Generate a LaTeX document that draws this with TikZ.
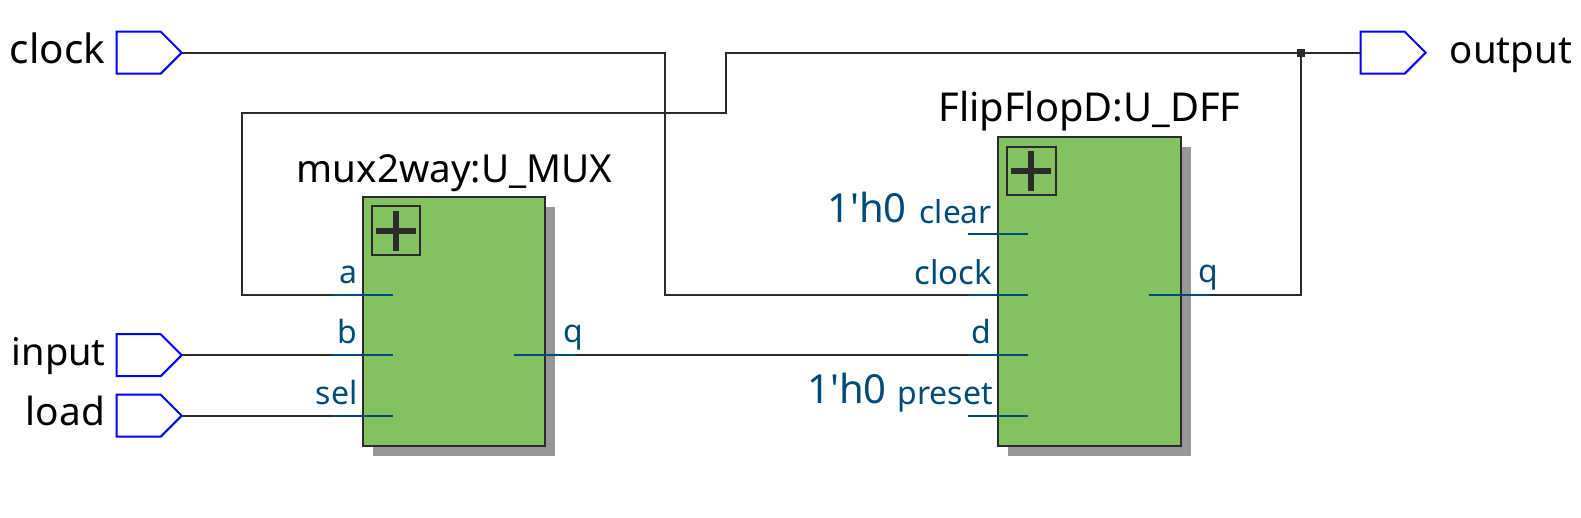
\documentclass[tikz,border=0pt]{standalone}
\usepackage{fontspec}
\setmainfont{Noto Sans}
\usetikzlibrary{shapes.symbols}
\definecolor{wirec}{HTML}{2B2B2B}
\definecolor{portc}{HTML}{004A78}
\definecolor{blockc}{HTML}{84C161}
\definecolor{shadowc}{HTML}{969696}
\tikzset{
  x=0.5pt,y=-0.5pt,
  pinbox/.style={signal,signal to=east,signal from=nowhere,signal pointer angle=90,draw=blue,line width=1pt,fill=white,minimum width=32.5pt,minimum height=21pt,inner sep=0pt,outer sep=0pt,anchor=west},
  blockbox/.style={draw=wirec,line width=1pt,fill=blockc,anchor=north west,minimum width=91.3pt,inner sep=0pt,outer sep=0pt},
  shadowbox/.style={fill=shadowc,anchor=north west,minimum width=91.3pt,inner sep=0pt,outer sep=0pt},
  plusbox/.style={draw=wirec,line width=1pt,minimum size=24.3pt,inner sep=0pt,outer sep=0pt},
  wire/.style={draw=wirec,line width=0.85pt},
  stub/.style={draw=portc,line width=0.85pt},
  plusbar/.style={draw=wirec,line width=3pt},
  pinlabel/.style={text=black,font=\fontsize{19.4pt}{23pt}\selectfont,inner sep=0pt,anchor=base east},
  title/.style={text=black,inner sep=0pt,anchor=base},
  portlabel/.style={text=portc,font=\fontsize{16pt}{19pt}\selectfont,inner sep=0pt,anchor=base east},
  constlabel/.style={text=portc,font=\fontsize{20pt}{24pt}\selectfont,inner sep=0pt,anchor=base east},
  junction/.style={fill=wirec,minimum size=4pt,inner sep=0pt,outer sep=0pt}
}
\begin{document}
\begin{tikzpicture}
\useasboundingbox (0,0) rectangle (1581,518);
% shadows
\node[shadowbox,minimum height=124.7pt] (muxshadow) at (372.7,206.7) {};
\node[shadowbox,minimum height=154.9pt] (dffshadow) at (1008,146.7) {};
% blocks
\node[blockbox,minimum height=124.7pt] (mux) at (362.7,196.7) {};
\node[blockbox,minimum height=154.6pt] (dff) at (998,136.8) {};
% expand icons
\node[plusbox] (muxplus) at (396,230.8) {};
\draw[plusbar] (376,230.8) -- (416,230.8) (396,210.8) -- (396,250.8);
\node[plusbox] (dffplus) at (1031.3,171) {};
\draw[plusbar] (1011.3,171) -- (1051.3,171) (1031.3,151) -- (1031.3,191);
% pins
\node[pinbox] (clockpin) at (116.7,52.7) {};
\node[pinbox] (inputpin) at (116.7,355.2) {};
\node[pinbox] (loadpin) at (116.7,415.7) {};
\node[pinbox] (outpin) at (1360.7,52.7) {};
% port ends
\coordinate (muxa) at (332,294.7);
\coordinate (muxa2) at (393,294.7);
\coordinate (muxb) at (332,355.2);
\coordinate (muxb2) at (393,355.2);
\coordinate (muxs) at (332,415.7);
\coordinate (muxs2) at (393,415.7);
\coordinate (muxq2) at (514,355.2);
\coordinate (muxq) at (575,355.2);
\coordinate (dffc0) at (968,234.2);
\coordinate (dffc1) at (1028,234.2);
\coordinate (dffk) at (968,294.7);
\coordinate (dffk2) at (1028,294.7);
\coordinate (dffd) at (968,355.2);
\coordinate (dffd2) at (1028,355.2);
\coordinate (dffp) at (968,415.7);
\coordinate (dffp2) at (1028,415.7);
\coordinate (dffq2) at (1149,294.7);
\coordinate (dffq) at (1210,294.7);
\node[junction] (jn) at (1300.7,52.7) {};
\coordinate (fbk) at (726,113.3);
% wires
\draw[wire] (clockpin.east) -| (665.3,294.7) -- (dffk);
\draw[wire] (outpin.west) -- (jn.center) -- (726,52.7) -- (fbk) -- (241.7,113.3) |- (muxa);
\draw[wire] (inputpin.east) -- (muxb);
\draw[wire] (loadpin.east) -- (muxs);
\draw[wire] (muxq) -- (dffd);
\draw[wire] (dffq) -| (jn.center);
% port stubs
\draw[stub] (muxa) -- (muxa2);
\draw[stub] (muxb) -- (muxb2);
\draw[stub] (muxs) -- (muxs2);
\draw[stub] (muxq2) -- (muxq);
\draw[stub] (dffc0) -- (dffc1);
\draw[stub] (dffk) -- (dffk2);
\draw[stub] (dffd) -- (dffd2);
\draw[stub] (dffp) -- (dffp2);
\draw[stub] (dffq2) -- (dffq);
% pin labels
\node[pinlabel,font=\fontsize{20.2pt}{23pt}\selectfont] (lclock) at (105.5,63.7) {clock};
\node[pinlabel,font=\fontsize{19pt}{23pt}\selectfont] (linput) at (106,366) {input};
\node[pinlabel] (lload) at (105.5,426) {load};
\node[pinlabel,anchor=base west,font=\fontsize{19.2pt}{23pt}\selectfont] (loutput) at (1449.5,63.7) {output};
% titles
\node[title,font=\fontsize{19.3pt}{23pt}\selectfont] (tmux) at (454.6,182.5) {mux2way:U\_MUX};
\node[title,font=\fontsize{19.9pt}{23pt}\selectfont] (tdff) at (1089.5,122) {FlipFlopD:U\_DFF};
% port labels
\node[portlabel] (pa) at (358,283.7) {a};
\node[portlabel] (pb) at (358,343.5) {b};
\node[portlabel] (ps) at (358,404.5) {sel};
\node[portlabel,anchor=base west] (pq) at (563,343) {q};
\node[portlabel,font=\fontsize{15.8pt}{19pt}\selectfont] (pclear) at (992,224) {clear};
\node[portlabel,font=\fontsize{16.4pt}{19pt}\selectfont] (pclock) at (992,284.5) {clock};
\node[portlabel] (pd) at (992,343.5) {d};
\node[portlabel] (ppreset) at (993,405) {preset};
\node[portlabel,anchor=base west] (pq2) at (1198,283) {q};
\node[constlabel] (c0) at (907,223) {1\textquotesingle h0};
\node[constlabel] (c1) at (887,404) {1\textquotesingle h0};
\end{tikzpicture}
\end{document}
